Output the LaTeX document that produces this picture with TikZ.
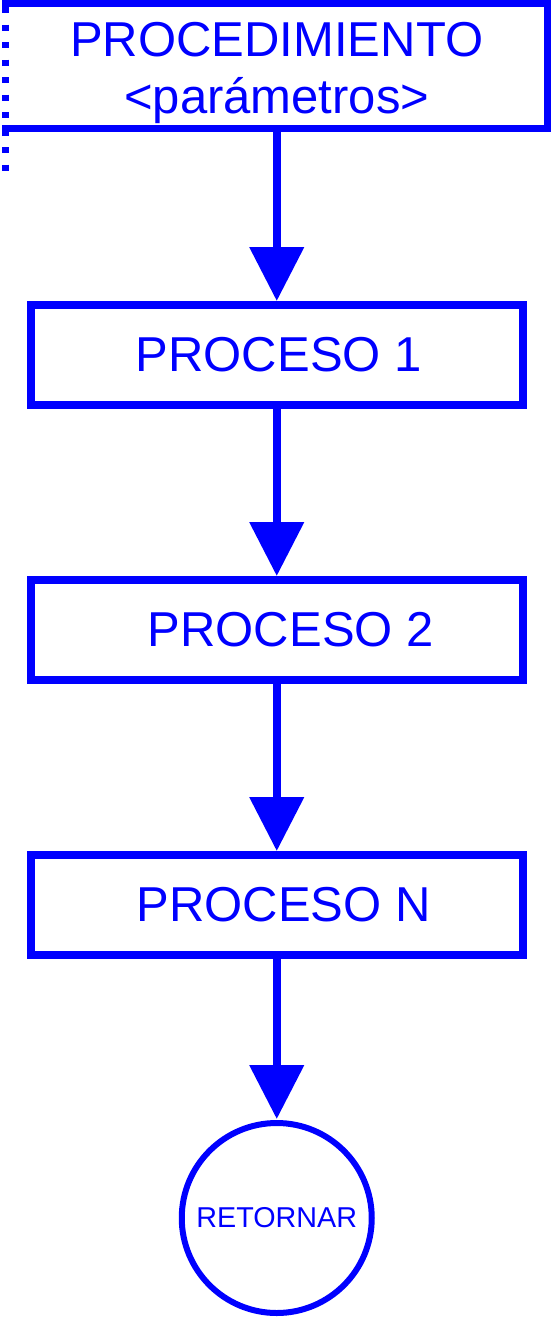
\documentclass[tikz,border=0pt]{standalone}
\usepackage{fontspec}
\setmainfont{Liberation Sans}
\usepackage{tikz}
\usetikzlibrary{arrows.meta,positioning}
\definecolor{flujoazul}{RGB}{0,0,255}

\begin{document}
\begin{tikzpicture}[x=1pt, y=-1pt,
  node distance=175pt,
  pnode/.style={rectangle, draw=flujoazul, line width=8pt, outer sep=0pt, text=flujoazul,
    minimum width=492pt, minimum height=100pt, font=\fontsize{49}{57}\selectfont},
  rnode/.style={circle, draw=flujoazul, line width=6pt, outer sep=0pt, text=flujoazul,
    minimum size=190pt, inner sep=0pt, font=\fontsize{28.7}{32}\selectfont},
  arr/.style={-{Triangle[length=54pt, width=53pt]}, flujoazul, line width=8pt, shorten >=4pt}]
\useasboundingbox (0,0) rectangle (553,1317);
\node[pnode, draw=none, minimum width=542pt, minimum height=125pt, align=center] (proc) at (276.75,65.5)
  {\rule{0pt}{50pt}PROCEDIMIENTO\\<parámetros>};
\draw[flujoazul, line width=7pt, line cap=rect] (proc.north west) -- (proc.north east)
  -- (proc.south east) -- (proc.south west);
\draw[flujoazul, line width=7pt, dash pattern=on 6pt off 11.5pt, dash phase=13.5pt]
  (proc.north west) -- ++(0,169);
\node[pnode, below=177pt of proc] (p1) {\hspace*{4pt}PROCESO 1};
\node[pnode, below=of p1] (p2) {\hspace*{28pt}PROCESO 2};
\node[pnode, below=of p2] (pn) {\hspace*{14pt}PROCESO N};
\node[rnode, below=168pt of pn] (ret) {RETORNAR};
\foreach \a/\b in {proc/p1,p1/p2,p2/pn,pn/ret}
  \draw[arr] (\a) -- (\b);
\end{tikzpicture}
\end{document}
